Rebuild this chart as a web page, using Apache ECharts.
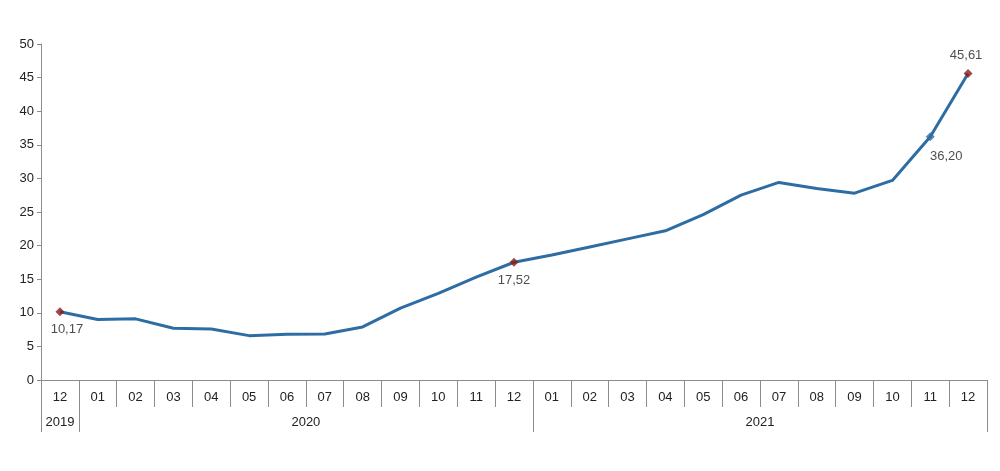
<!DOCTYPE html>
<html>
<head>
<meta charset="utf-8">
<script src="https://cdn.jsdelivr.net/npm/echarts@6/dist/echarts.min.js"></script>
<style>
  html, body { margin: 0; padding: 0; background: #fff; }
  #chart { width: 1000px; height: 471px; }
</style>
</head>
<body>
<div id="chart"></div>
<script>
// ay etiketleri
var months = ['12', '01', '02', '03', '04', '05', '06', '07', '08', '09', '10', '11', '12',
  '01', '02', '03', '04', '05', '06', '07', '08', '09', '10', '11', '12'];
// yillar: etiket, ilk ay indeksi, son ay indeksi
var years = ['2019', '2020', '2021'];
var yearStart = [0, 1, 13];
var yearEnd = [0, 12, 24];
// degerler
var values = [10.17, 9.0, 9.1, 7.7, 7.6, 6.6, 6.8, 6.85, 7.9, 10.7, 12.9, 15.3, 17.52,
  18.6, 19.8, 21.0, 22.2, 24.6, 27.5, 29.4, 28.5, 27.8, 29.7, 36.20, 45.61];
// isaretli noktalar
var marked = [0, 12, 23, 24];
var markedColor = ['#8b1a1a', '#8b1a1a', '#2e6da4', '#8b1a1a'];
var markedPos = ['bottom', 'bottom', 'bottom', 'top'];
var markedOffset = [[7, 2], [0, 2], [16, 4], [-2, -2]];

var yTicks = [0, 5, 10, 15, 20, 25, 30, 35, 40, 45, 50];

function fmt(v) {
  return v.toFixed(2).replace('.', ',');
}

var markedData = marked.map(function (idx, i) {
  return {
    value: [idx, values[idx]],
    itemStyle: { color: markedColor[i] },
    label: {
      show: true,
      position: markedPos[i],
      offset: markedOffset[i],
      formatter: fmt(values[idx])
    }
  };
});

var yearCenters = years.map(function (y, i) { return (yearStart[i] + yearEnd[i]) / 2; });
var yearBounds = [-0.5].concat(yearEnd.map(function (e) { return e + 0.5; }));

var chart = echarts.init(document.getElementById('chart'));
chart.setOption({
  animation: false,
  textStyle: { fontFamily: 'Liberation Sans, Arial, sans-serif' },
  grid: {
    top: 44,
    bottom: 91,
    left: 41,
    right: 13,
    containLabel: false
  },
  xAxis: [
    {
      type: 'category',
      data: months,
      boundaryGap: true,
      axisLine: { onZero: false, lineStyle: { color: '#8c8c8c', width: 1 } },
      axisTick: {
        show: true,
        interval: 0,
        length: 27,
        lineStyle: { color: '#8c8c8c' }
      },
      axisLabel: {
        interval: 0,
        color: '#222',
        fontSize: 13,
        margin: 11
      },
      splitLine: { show: false }
    },
    {
      type: 'value',
      position: 'bottom',
      offset: 27,
      min: -0.5,
      max: 24.5,
      axisLine: { show: false, onZero: false },
      axisTick: {
        show: true,
        length: 25,
        customValues: yearBounds,
        lineStyle: { color: '#8c8c8c' }
      },
      axisLabel: {
        customValues: yearCenters,
        color: '#222',
        fontSize: 13,
        margin: 9,
        formatter: function (v) {
          var i = yearCenters.indexOf(v);
          return i >= 0 ? years[i] : '';
        }
      },
      splitLine: { show: false }
    }
  ],
  yAxis: {
    type: 'value',
    min: 0,
    max: 50,
    interval: 5,
    axisLine: { show: true, onZero: false, lineStyle: { color: '#8c8c8c' } },
    axisTick: { show: true, length: 4, lineStyle: { color: '#8c8c8c' } },
    axisLabel: {
      color: '#222',
      fontSize: 13,
      margin: 7,
      formatter: function (v) { return yTicks.indexOf(v) >= 0 ? String(v) : ''; }
    },
    splitLine: { show: false }
  },
  series: [
    {
      type: 'line',
      xAxisIndex: 0,
      data: values,
      symbol: 'none',
      lineStyle: { color: '#2e6da4', width: 3 },
      z: 2
    },
    {
      type: 'scatter',
      xAxisIndex: 0,
      data: markedData,
      symbol: 'diamond',
      symbolSize: 9,
      label: { color: '#222', fontSize: 13 },
      z: 3
    }
  ]
});
</script>
</body>
</html>
